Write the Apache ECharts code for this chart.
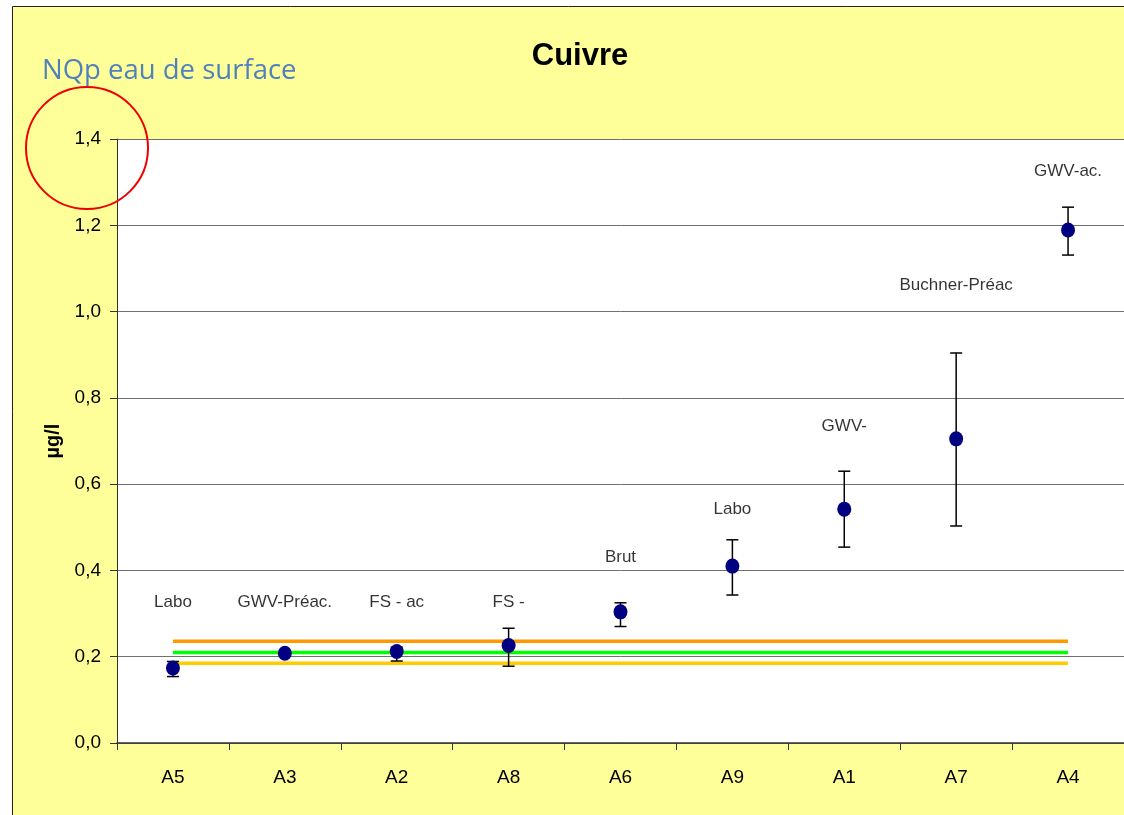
<!DOCTYPE html>
<html><head><meta charset="utf-8">
<script src="https://cdn.jsdelivr.net/npm/echarts@6/dist/echarts.min.js"></script>
<style>html,body{margin:0;padding:0;background:#fff}#c{width:1124px;height:815px}</style>
</head><body><div id="c"></div>
<script>
const categories = ['A5','A3','A2','A8','A6','A9','A1','A7','A4'];
const means = [0.174,0.208,0.212,0.226,0.304,0.410,0.542,0.705,1.189];
const lows  = [0.154,0.203,0.190,0.178,0.270,0.343,0.454,0.503,1.131];
const highs = [0.189,0.213,0.222,0.266,0.325,0.471,0.630,0.904,1.242];
const pointLabels = ['Labo','GWV-Préac.','FS - ac','FS -','Brut','Labo','GWV-','Buchner-Préac','GWV-ac.'];
const labelLevels = [0.327,0.327,0.327,0.327,0.431,0.542,0.735,1.062,1.324];
const limitOrange = [0.236,0.236,0.236,0.236,0.236,0.236,0.236,0.236,0.236];
const limitGreen  = [0.210,0.210,0.210,0.210,0.210,0.210,0.210,0.210,0.210];
const limitGold   = [0.185,0.185,0.185,0.185,0.185,0.185,0.185,0.185,0.185];
const yTicks = ['0,0','0,2','0,4','0,6','0,8','1,0','1,2','1,4'];

const chart = echarts.init(document.getElementById('c'));
const font = 'Liberation Sans, Arial, sans-serif';
chart.setOption({
  backgroundColor: '#ffffff',
  animation: false,
  graphic: [
    {type:'rect', z:-10, shape:{x:12.5,y:6.5,width:1130,height:830}, style:{fill:'#FFFF99',stroke:'#222',lineWidth:1}},
    {type:'text', left:42, top:57, style:{text:'NQp eau de surface', fill:'#4F81BD', font:'27.5px "Open Sans", sans-serif'}},
    {type:'circle', z:100, shape:{cx:87,cy:148,r:61}, style:{fill:'none',stroke:'#EE0000',lineWidth:2}}
  ],
  title: {text:'Cuivre', left:575, top:36, textAlign:'center', textStyle:{fontFamily:font,fontWeight:'bold',fontSize:31,color:'#000'}},
  grid: {left:117, top:139, width:1008, height:604, show:true, backgroundColor:'#fff', borderWidth:0},
  xAxis: {
    type:'category', data:categories, boundaryGap:true,
    axisLine:{lineStyle:{color:'#333',width:1.5}},
    axisTick:{show:true,length:7,lineStyle:{color:'#333'}},
    axisLabel:{fontFamily:font,fontSize:19,color:'#000',margin:25},
    splitLine:{show:false}
  },
  yAxis: {
    type:'value', min:0, max:1.4, interval:0.2,
    name:'µg/l', nameLocation:'middle', nameGap:52, nameRotate:90,
    nameTextStyle:{fontFamily:font,fontSize:20,fontWeight:'bold',color:'#000'},
    axisLine:{show:true,lineStyle:{color:'#333'}},
    axisTick:{show:true,length:7,lineStyle:{color:'#333'}},
    axisLabel:{fontFamily:font,fontSize:19,color:'#000',margin:16,formatter:(v)=>yTicks[Math.round(v/0.2)]},
    splitLine:{show:true,lineStyle:{color:'#6f6f6f',width:1}}
  },
  series: [
    {type:'line', data:limitOrange, symbol:'none', lineStyle:{color:'#FF9900',width:3.5}, z:2, silent:true},
    {type:'line', data:limitGreen, symbol:'none', lineStyle:{color:'#00FF00',width:3.5}, z:2, silent:true},
    {type:'line', data:limitGold, symbol:'none', lineStyle:{color:'#FFCC00',width:3.5}, z:2, silent:true},
    {type:'custom', z:3,
      data: categories.map((c,i)=>[i,lows[i],highs[i]]),
      renderItem:(params,api)=>{
        const i=api.value(0);
        const lo=api.coord([i,api.value(1)]);
        const hi=api.coord([i,api.value(2)]);
        const hw=6;
        const st={stroke:'#000',lineWidth:1.5};
        return {type:'group',children:[
          {type:'line',shape:{x1:lo[0],y1:lo[1],x2:hi[0],y2:hi[1]},style:st},
          {type:'line',shape:{x1:lo[0]-hw,y1:lo[1],x2:lo[0]+hw,y2:lo[1]},style:st},
          {type:'line',shape:{x1:hi[0]-hw,y1:hi[1],x2:hi[0]+hw,y2:hi[1]},style:st}
        ]};
      }
    },
    {type:'scatter', data:means, symbol:'circle', symbolSize:[14,15], itemStyle:{color:'#000080',opacity:1}, z:5},
    {type:'scatter', data:labelLevels.map((v,i)=>({value:v,name:pointLabels[i]})), symbolSize:0, z:6,
      label:{show:true,position:'inside',formatter:p=>p.name,fontFamily:font,fontSize:17,color:'#000'}}
  ]
});
</script></body></html>
